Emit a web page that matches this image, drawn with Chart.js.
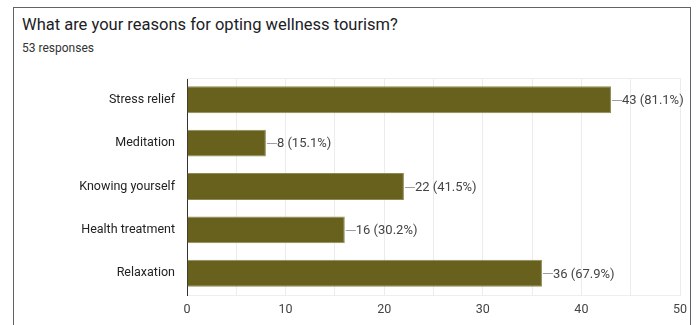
<!DOCTYPE html>
<html>
<head>
<meta charset="utf-8">
<script src="https://cdn.jsdelivr.net/npm/chart.js@4.4.1/dist/chart.umd.min.js"></script>
<style>
  html, body { margin: 0; padding: 0; background: #fff; }
  #wrap { position: relative; width: 696px; height: 325px; overflow: hidden; font-family: Roboto, "Noto Sans", sans-serif; }
  #frame { position: absolute; left: 13px; top: 7px; width: 676px; height: 340px; border: 1px solid #5f6368; border-bottom: none; }
  #title { position: absolute; left: 22px; top: 15px; font-size: 16.5px; color: #202124; white-space: nowrap; }
  #sub { position: absolute; left: 22px; top: 41px; font-size: 12px; color: #333; white-space: nowrap; }
  canvas { position: absolute; left: 0; top: 0; }
</style>
</head>
<body>
<div id="wrap">
  <div id="frame"></div>
  <div id="title">What are your reasons for opting wellness tourism?</div>
  <div id="sub">53 responses</div>
  <canvas id="c" width="696" height="325"></canvas>
</div>
<script>
const categories = ["Stress relief", "Meditation", "Knowing yourself", "Health treatment", "Relaxation"];
const counts = [43, 8, 22, 16, 36];
const totalResponses = 53;
const xTicks = [0, 10, 20, 30, 40, 50];

const labelPlugin = {
  id: 'barLabels',
  afterDatasetsDraw(chart) {
    const ctx = chart.ctx;
    const meta = chart.getDatasetMeta(0);
    ctx.save();
    meta.data.forEach((bar, i) => {
      const v = counts[i];
      const pct = (v / totalResponses * 100).toFixed(1);
      const x0 = bar.x + 1;
      ctx.strokeStyle = '#9e9e9e';
      ctx.lineWidth = 1;
      ctx.beginPath();
      ctx.moveTo(x0, Math.round(bar.y) + 0.5);
      ctx.lineTo(x0 + 10, Math.round(bar.y) + 0.5);
      ctx.stroke();
      ctx.fillStyle = '#444';
      ctx.font = '13px Roboto, "Noto Sans", sans-serif';
      ctx.textBaseline = 'middle';
      ctx.textAlign = 'left';
      ctx.fillText(v + ' (' + pct + '%)', x0 + 10, bar.y + 1);
    });
    ctx.restore();
  },
  beforeDatasetsDraw(chart) {
    const ctx = chart.ctx;
    const a = chart.chartArea;
    ctx.save();
    ctx.strokeStyle = '#eeeeee';
    ctx.lineWidth = 1;
    ctx.beginPath();
    ctx.moveTo(a.left, Math.round(a.top) + 0.5);
    ctx.lineTo(a.right, Math.round(a.top) + 0.5);
    ctx.stroke();
    ctx.restore();
  }
};

new Chart(document.getElementById('c'), {
  type: 'bar',
  data: {
    labels: categories,
    datasets: [{
      data: counts,
      backgroundColor: '#67611d',
      borderColor: '#8f8a55',
      borderWidth: 1,
      borderSkipped: 'start',
      barPercentage: 0.62,
      categoryPercentage: 1.0
    }]
  },
  options: {
    indexAxis: 'y',
    responsive: false,
    animation: false,
    events: [],
    layout: { padding: { left: 0, right: 16, top: 78, bottom: 0 } },
    plugins: { legend: { display: false }, tooltip: { enabled: false }, title: { display: false } },
    scales: {
      x: {
        min: 0, max: 50,
        afterFit(s) { s.height = 30; },
        ticks: {
          stepSize: 5,
          autoSkip: false,
          maxRotation: 0,
          padding: 7,
          color: '#444',
          font: { family: 'Roboto', size: 12.5 },
          callback: (v) => xTicks.includes(v) ? String(v) : ''
        },
        grid: {
          color: (c) => (c.tick && c.tick.value === 0) ? 'rgba(0,0,0,0)' : '#ececec',
          drawTicks: false
        },
        border: { display: true, color: '#eeeeee' }
      },
      y: {
        afterFit(s) { s.width = 187; },
        ticks: {
          padding: 12,
          color: '#222',
          font: { family: 'Roboto', size: 12.5 }
        },
        grid: { display: false, drawTicks: false },
        border: { display: true, color: '#333', width: 1 }
      }
    }
  },
  plugins: [labelPlugin]
});
</script>
</body>
</html>
